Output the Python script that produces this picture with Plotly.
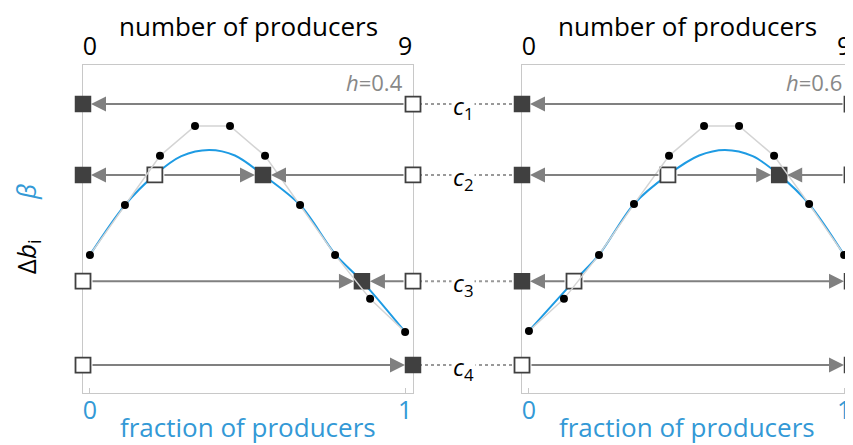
import plotly.graph_objects as go

# ---- data ----
n_producers = [0, 1, 2, 3, 4, 5, 6, 7, 8, 9]
db_left = [0.421, 0.573, 0.723, 0.814, 0.814, 0.723, 0.573, 0.421, 0.287, 0.186]
db_right = [0.189, 0.287, 0.421, 0.576, 0.723, 0.814, 0.814, 0.723, 0.576, 0.421]

beta_x_left = [0, 0.111, 0.206, 0.29, 0.378, 0.46, 0.549, 0.667, 0.78, 0.863, 1.0]
beta_y_left = [0.421, 0.573, 0.665, 0.722, 0.741, 0.724, 0.665, 0.573, 0.421, 0.341, 0.186]
beta_x_right = [0, 0.143, 0.222, 0.333, 0.441, 0.54, 0.622, 0.71, 0.794, 0.889, 1.0]
beta_y_right = [0.189, 0.341, 0.421, 0.576, 0.665, 0.724, 0.741, 0.722, 0.665, 0.576, 0.421]

c_levels = [0.881, 0.665, 0.341, 0.085]
c_names = ['1', '2', '3', '4']
h_values = ['0.4', '0.6']

# axis ranges (box edges sit slightly outside 0 and 1)
X_LO, X_HI = -0.022, 1.025
N_MAX = 9

# fixed points per c level: (x, stable?)  'lo'/'hi' = box edges
fixed_left = [
    [('lo', True), ('hi', False)],
    [('lo', True), (0.206, False), (0.549, True), ('hi', False)],
    [('lo', False), (0.863, True), ('hi', False)],
    [('lo', False), ('hi', True)],
]
fixed_right = [
    [('lo', True), ('hi', False)],
    [('lo', True), (0.441, False), (0.794, True), ('hi', False)],
    [('lo', True), (0.143, False), ('hi', True)],
    [('lo', False), ('hi', True)],
]

BLUE_TXT = '#3399d6'
BLUE_LINE = '#1e9be3'
DARK = '#404040'
GRAY = '#808080'
BOX = '#c8c8c8'
FONT = 'Open Sans'

# page body adds an 8px offset, so the figure is drawn 8px smaller
W, H = 845, 437
dom_left = [75 / W, 405 / W]
dom_right = [514 / W, 844 / W]
dom_y = [52 / H, 380 / H]


def ex(v):
    return X_LO if v == 'lo' else X_HI if v == 'hi' else v


fig = go.Figure()
annotations = []
shapes = []

panels = [
    ('x', 'x3', 'y', db_left, beta_x_left, beta_y_left, fixed_left),
    ('x2', 'x4', 'y2', db_right, beta_x_right, beta_y_right, fixed_right),
]

for xa, xn, ya, dots, bx, by, fixed in panels:
    # discrete differences
    fig.add_trace(go.Scatter(x=n_producers, y=dots, xaxis=xn, yaxis=ya, mode='lines+markers',
                             line=dict(color='#d4d4d4', width=1.5),
                             marker=dict(color='black', size=8), showlegend=False, cliponaxis=False))
    # continuous beta
    fig.add_trace(go.Scatter(x=bx, y=by, xaxis=xa, yaxis=ya, mode='lines',
                             line=dict(color=BLUE_LINE, width=2, shape='spline', smoothing=0.9),
                             showlegend=False))
    # arrows between fixed points, open -> filled
    for c, pts in zip(c_levels, fixed):
        for (p0, s0), (p1, s1) in zip(pts[:-1], pts[1:]):
            head, tail = (ex(p1), ex(p0)) if s1 else (ex(p0), ex(p1))
            annotations.append(dict(x=head, y=c, ax=tail, ay=c, xref=xa, yref=ya, axref=xa, ayref=ya,
                                    text='', showarrow=True, arrowhead=2, arrowsize=1.5, arrowwidth=2,
                                    arrowcolor=GRAY, standoff=8, startstandoff=8))
    # squares
    sx = [ex(p) for c, pts in zip(c_levels, fixed) for p, s in pts if s]
    sy = [c for c, pts in zip(c_levels, fixed) for p, s in pts if s]
    ux = [ex(p) for c, pts in zip(c_levels, fixed) for p, s in pts if not s]
    uy = [c for c, pts in zip(c_levels, fixed) for p, s in pts if not s]
    fig.add_trace(go.Scatter(x=sx, y=sy, xaxis=xa, yaxis=ya, mode='markers', cliponaxis=False,
                             marker=dict(symbol='square', size=15, color=DARK, line=dict(color=DARK, width=1.5)),
                             showlegend=False))
    fig.add_trace(go.Scatter(x=ux, y=uy, xaxis=xa, yaxis=ya, mode='markers', cliponaxis=False,
                             marker=dict(symbol='square', size=15, color='white', line=dict(color=DARK, width=1.8)),
                             showlegend=False))

# panel labels: h value, axis titles
for xa, ya, h in [('x', 'y', h_values[0]), ('x2', 'y2', h_values[1])]:
    annotations.append(dict(x=0.975, y=1.0, xref=xa + ' domain', yref=ya + ' domain', xanchor='right',
                            yanchor='top', showarrow=False, text='<i>h</i>=' + h,
                            font=dict(family=FONT, size=22, color='#888888')))
    annotations.append(dict(x=0.5, y=1.0, xref=xa + ' domain', yref=ya + ' domain', yanchor='middle',
                            yshift=39, showarrow=False, text='number of producers', borderpad=0,
                            font=dict(family=FONT, size=26, color='black')))
    annotations.append(dict(x=0.5, y=0.0, xref=xa + ' domain', yref=ya + ' domain', yanchor='middle',
                            yshift=-34, showarrow=False, text='fraction of producers',
                            font=dict(family=FONT, size=26, color=BLUE_TXT)))

# dotted connectors and c labels between the panels
mid = (463 - 8) / W
for c, name in zip(c_levels, c_names):
    shapes.append(dict(type='line', xref='paper', yref='y', x0=dom_left[1], x1=dom_right[0], y0=c, y1=c,
                       line=dict(color='#999999', width=2, dash='dot'), layer='below'))
    annotations.append(dict(x=mid, y=c, xref='paper', yref='y', showarrow=False, bgcolor='white',
                            text='<i>c</i><sub>' + name + '</sub>', font=dict(family=FONT, size=24, color='black'),
                            yshift=-3))

frac_axis = dict(range=[X_LO, X_HI], tickvals=[0, 1], ticktext=['0', '1'], ticks='inside', ticklen=5,
                 tickcolor=BOX, showline=True, mirror=True, linecolor=BOX, linewidth=1.2, showgrid=False,
                 zeroline=False, automargin=False, layer='below traces', ticklabelstandoff=-5,
                 tickfont=dict(family=FONT, size=25, color=BLUE_TXT))
num_axis = dict(range=[X_LO * N_MAX, X_HI * N_MAX], tickvals=[0, N_MAX], ticktext=['0', str(N_MAX)],
                side='top', showline=False, showgrid=False, zeroline=False, ticks='', automargin=False,
                ticklabelstandoff=4, tickfont=dict(family=FONT, size=25, color='black'))
y_axis = dict(range=[0, 1], domain=dom_y, showline=True, mirror=True, linecolor=BOX, linewidth=1.2,
              showgrid=False, zeroline=False, showticklabels=False, ticks='', automargin=False,
              layer='below traces')

fig.update_layout(
    width=W, height=H, margin=dict(l=0, r=0, t=0, b=0),
    paper_bgcolor='white', plot_bgcolor='white', showlegend=False,
    xaxis=dict(frac_axis, domain=dom_left, anchor='y'),
    xaxis2=dict(frac_axis, domain=dom_right, anchor='y2'),
    xaxis3=dict(num_axis, overlaying='x', anchor='y'),
    xaxis4=dict(num_axis, overlaying='x2', anchor='y2'),
    yaxis=dict(y_axis, anchor='x',
               title=dict(text='Δ<i>b</i><sub>i</sub>&nbsp;&nbsp;&nbsp;&nbsp;&nbsp;&nbsp;'
                               '<span style="color:' + BLUE_TXT + '"><i>β</i></span>',
                          standoff=40, font=dict(family=FONT, size=26, color='black'))),
    yaxis2=dict(y_axis, anchor='x2'),
    annotations=annotations, shapes=shapes,
)

fig.write_html('out.html')
